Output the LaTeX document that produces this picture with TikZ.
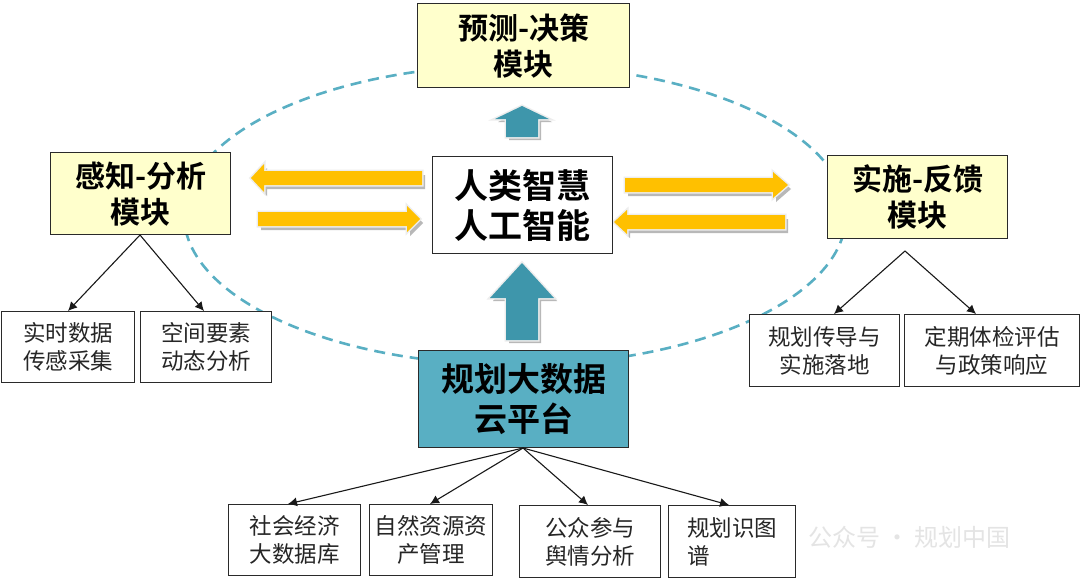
\documentclass[tikz,border=0pt]{standalone}
\usepackage{fontspec}
\setmainfont{Noto Sans CJK SC}[BoldFont={Noto Sans CJK SC Bold}]
\usetikzlibrary{arrows.meta}
\definecolor{modfill}{HTML}{FFFFCC}
\definecolor{teal1}{HTML}{59AFC3}
\definecolor{teal2}{HTML}{3E96AB}
\definecolor{gold1}{HTML}{FFC000}
\definecolor{edge1}{HTML}{2A2A2A}
\definecolor{wmk}{HTML}{E4E4E4}
\tikzset{
  x=1pt,y=-1pt,
  basebox/.style={draw=edge1,line width=1.3pt,rectangle,inner sep=0pt,align=center,anchor=north west},
  modbox/.style={basebox,fill=modfill,font=\bfseries\fontsize{30}{36}\selectfont},
  aibox/.style={basebox,fill=white,font=\bfseries\fontsize{34}{40}\selectfont},
  cloudbox/.style={basebox,fill=teal1,font=\bfseries\fontsize{33}{40}\selectfont},
  leafbox/.style={basebox,fill=white,font=\fontsize{22.5}{28}\selectfont,text=black!85},
  link/.style={draw=black!90,line width=1.1pt,-{Latex[length=9pt,width=9pt]}},
  orbit/.style={draw=teal1,line width=2.6pt,dash pattern=on 11pt off 7pt},
  halo/.style={draw=white!93!black,line width=3pt,line join=miter,fill=white!93!black},
  shade/.style={fill=black!28,draw=none},
}
% #1 style-free arrow pieces: horizontal arrow from tail x #1 to tip x #2, base x #3, centre y #4, half shaft #5, half head #6
\newcommand{\hblock}[7]{%
  \fill[shade] (#1+3,#4-#5+4) -- (#3+3,#4-#5+4) -- (#3+3,#4-#6+4) -- (#2+3,#4+4) -- (#3+3,#4+#6+4) -- (#3+3,#4+#5+4) -- (#1+3,#4+#5+4) -- cycle;
  \path[halo] (#1,#4-#5) -- (#3,#4-#5) -- (#3,#4-#6) -- (#2,#4) -- (#3,#4+#6) -- (#3,#4+#5) -- (#1,#4+#5) -- cycle;
  \fill[#7] (#1,#4-#5) -- (#3,#4-#5) -- (#3,#4-#6) -- (#2,#4) -- (#3,#4+#6) -- (#3,#4+#5) -- (#1,#4+#5) -- cycle;
}
\newcommand{\vblock}[7]{%
  \fill[shade] (#4-#5+3,#1+3) -- (#4-#5+3,#3+3) -- (#4-#6+3,#3+3) -- (#4+3,#2+3) -- (#4+#6+3,#3+3) -- (#4+#5+3,#3+3) -- (#4+#5+3,#1+3) -- cycle;
  \path[halo] (#4-#5,#1) -- (#4-#5,#3) -- (#4-#6,#3) -- (#4,#2) -- (#4+#6,#3) -- (#4+#5,#3) -- (#4+#5,#1) -- cycle;
  \fill[#7] (#4-#5,#1) -- (#4-#5,#3) -- (#4-#6,#3) -- (#4,#2) -- (#4+#6,#3) -- (#4+#5,#3) -- (#4+#5,#1) -- cycle;
}
\begin{document}
\begin{tikzpicture}
\useasboundingbox[fill=white] (0,0) rectangle (1080,581);
\draw[orbit] (515,215) ellipse [x radius=331,y radius=150];

\hblock{422}{251}{264}{178}{7}{14}{gold1}
\hblock{258}{420}{407}{219}{7}{13}{gold1}
\hblock{625}{788}{773}{185}{7}{13}{gold1}
\hblock{785}{614}{627}{222}{7}{12}{gold1}
\vblock{137}{106}{119}{522}{16}{27}{teal2}
\vblock{340}{263}{298}{522}{16}{32}{teal2}

\node[modbox,minimum width=212pt,minimum height=84pt] (predict) at (417,3) {预测-决策\\模块};
\node[modbox,minimum width=180pt,minimum height=82pt] (sense) at (50,152) {感知-分析\\模块};
\node[modbox,minimum width=180pt,minimum height=83pt] (impl) at (827,155) {实施-反馈\\模块};
\node[aibox,minimum width=180pt,minimum height=97pt] (ai) at (432,156) {人类智慧\\人工智能};
\node[cloudbox,minimum width=210pt,minimum height=97pt] (cloud) at (418,350) {规划大数据\\云平台};

\node[leafbox,minimum width=133pt,minimum height=71pt] (l1) at (1,311) {实时数据\\传感采集};
\node[leafbox,minimum width=131pt,minimum height=71pt] (l2) at (140,311) {空间要素\\动态分析};
\node[leafbox,minimum width=150pt,minimum height=72pt] (r1) at (749,314) {规划传导与\\实施落地};
\node[leafbox,minimum width=175pt,minimum height=72pt] (r2) at (904,314) {定期体检评估\\与政策响应};
\node[leafbox,minimum width=132pt,minimum height=71pt] (b1) at (228,504) {社会经济\\大数据库};
\node[leafbox,minimum width=123pt,minimum height=71pt] (b2) at (369,504) {自然资源资\\产管理};
\node[leafbox,minimum width=141pt,minimum height=72pt] (b3) at (519,505) {公众参与\\舆情分析};
\node[leafbox,minimum width=127pt,minimum height=72pt,align=left] (b4) at (668,505) {规划识图\\谱};

\coordinate (s0) at (140,235);
\coordinate (i0) at (905,251);
\coordinate (c0) at (523,448);
\coordinate (s1) at (68,311);
\coordinate (s2) at (204,311);
\coordinate (i1) at (834,314);
\coordinate (i2) at (976,314);
\coordinate (c1) at (288,504);
\coordinate (c2) at (430,504);
\coordinate (c3) at (588,505);
\coordinate (c4) at (729,505);
\draw[link] (s0) -- (s1);
\draw[link] (s0) -- (s2);
\draw[link] (i0) -- (i1);
\draw[link] (i0) -- (i2);
\draw[link] (c0) -- (c1);
\draw[link] (c0) -- (c2);
\draw[link] (c0) -- (c3);
\draw[link] (c0) -- (c4);

\node[text=wmk,font=\fontsize{24}{28}\selectfont,anchor=west,inner sep=0pt] (wm) at (808,537) {公众号 · 规划中国};
\end{tikzpicture}
\end{document}
